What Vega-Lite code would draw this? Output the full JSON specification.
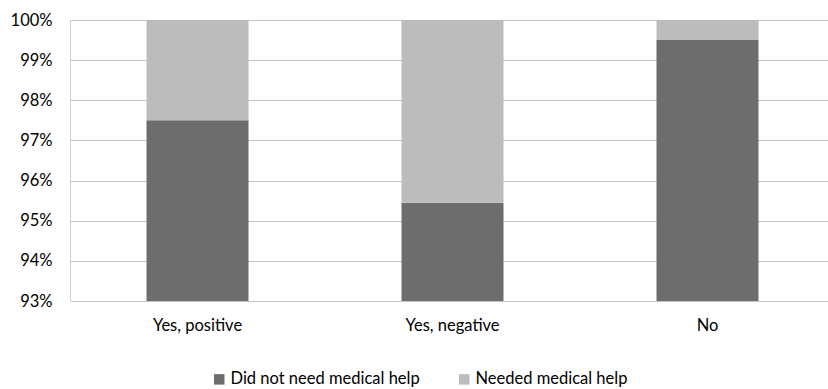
{
  "$schema": "https://vega.github.io/schema/vega-lite/v6.json",
  "autosize": "none",
  "width": 765,
  "height": 281,
  "padding": {"left": 70, "top": 20, "right": 0, "bottom": 88},
  "background": "white",
  "config": {
    "font": "Lato",
    "view": {"stroke": null}
  },
  "data": {
    "values": [
      {"category": "Yes, positive", "group": "Did not need medical help", "value": 0.975},
      {"category": "Yes, positive", "group": "Needed medical help", "value": 0.025},
      {"category": "Yes, negative", "group": "Did not need medical help", "value": 0.9545},
      {"category": "Yes, negative", "group": "Needed medical help", "value": 0.0455},
      {"category": "No", "group": "Did not need medical help", "value": 0.995},
      {"category": "No", "group": "Needed medical help", "value": 0.005}
    ]
  },
  "mark": {"type": "bar", "clip": true},
  "encoding": {
    "x": {
      "field": "category",
      "type": "nominal",
      "sort": ["Yes, positive", "Yes, negative", "No"],
      "scale": {"paddingInner": 0.6, "paddingOuter": 0.3},
      "axis": {
        "title": null,
        "labelAngle": 0,
        "ticks": false,
        "domain": false,
        "labelPadding": 16,
        "labelFontSize": 16.5,
        "labelColor": "#000000",
        "labelFont": "Lato"
      }
    },
    "y": {
      "field": "value",
      "type": "quantitative",
      "stack": "zero",
      "scale": {"domain": [0.93, 1.0], "nice": false, "zero": false},
      "axis": {
        "title": null,
        "format": ".0%",
        "values": [0.93, 0.94, 0.95, 0.96, 0.97, 0.98, 0.99, 1.0],
        "ticks": false,
        "labelPadding": 18,
        "labelFontSize": 16.5,
        "labelColor": "#000000",
        "labelFont": "Lato",
        "domain": true,
        "domainColor": "#d0d0d0",
        "gridColor": "#c4c4c4",
        "gridWidth": 1
      }
    },
    "color": {
      "field": "group",
      "type": "nominal",
      "scale": {
        "domain": ["Did not need medical help", "Needed medical help"],
        "range": ["#6d6d6d", "#bcbcbc"]
      },
      "legend": {
        "title": null,
        "orient": "none",
        "direction": "horizontal",
        "legendX": 141,
        "legendY": 351,
        "symbolType": "square",
        "symbolSize": 110,
        "symbolStrokeWidth": 0,
        "labelFontSize": 16.5,
        "labelFont": "Lato",
        "labelColor": "#000000",
        "columnPadding": 36,
        "labelOffset": 3,
        "labelLimit": 300
      }
    },
    "order": {"field": "group", "sort": "ascending"}
  }
}
